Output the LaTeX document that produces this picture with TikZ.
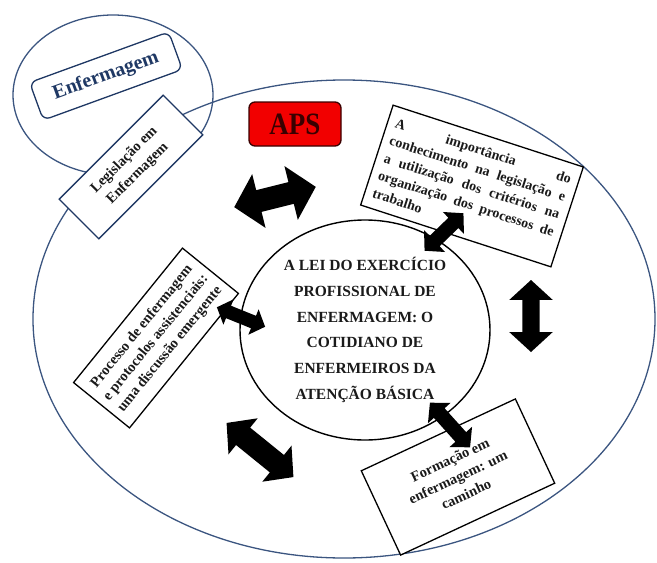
\documentclass[tikz,border=0pt]{standalone}
\usepackage{fontspec}
\setmainfont{Liberation Serif}
\usetikzlibrary{shapes.arrows,shapes.geometric}
\definecolor{navy}{HTML}{1F3864}
\definecolor{ellc}{HTML}{3B5580}
\definecolor{apsred}{HTML}{F20000}
\definecolor{apstxt}{HTML}{3A0000}
\definecolor{txt}{HTML}{1A1A1A}
\newcommand{\jline}[1]{\leavevmode\hbox to 184pt{#1}}
\begin{document}
\begin{tikzpicture}[x=1pt,y=-1pt,
  box/.style={draw=black, line width=1.3pt, fill=white, inner sep=0pt, text=txt,
    font=\bfseries\fontsize{14.5}{18}\selectfont, align=center},
  barr/.style={double arrow, fill=black, inner xsep=0pt, double arrow tip angle=95},
  outline/.style={draw=ellc, line width=1.3pt}
]
\useasboundingbox (0,0) rectangle (657,563);
% big and small ellipses
\node[outline, ellipse, inner sep=0pt, minimum width=622pt, minimum height=478pt] (big) at (344,319) {};
\node[outline, ellipse, inner sep=0pt, minimum width=200pt, minimum height=160pt] (small) at (113,95) {};
% central circle
\node[ellipse, draw=black, line width=1.4pt, inner sep=0pt, minimum width=250pt, minimum height=220pt,
  align=center, text=txt, font=\bfseries\fontsize{15.5}{25.8}\selectfont] (lei) at (365,330)
  {A LEI DO EXERCÍCIO\\PROFISSIONAL DE\\ENFERMAGEM: O\\COTIDIANO DE\\ENFERMEIROS DA\\ATENÇÃO BÁSICA};
% boxes
\node[draw=navy, line width=1.3pt, fill=white, rounded corners=7pt, rotate=20, minimum width=148pt, minimum height=40pt,
  text=navy, font=\bfseries\fontsize{20}{22}\selectfont] (enf) at (106,76) {Enfermagem};
\node[box, draw=navy, rotate=45, minimum width=147pt, minimum height=56pt, font=\bfseries\fontsize{14.5}{19}\selectfont] (leg) at (131,167)
  {Legislação em\\Enfermagem};
\node[draw=apstxt, line width=1.3pt, fill=apsred, rounded corners=6pt, minimum width=92pt, minimum height=44pt,
  text=apstxt, font=\bfseries\fontsize{27}{30}\selectfont] (aps) at (295,124) {\scalebox{1}[1.15]{APS}};
\node[box, rotate=-18, minimum width=200pt, minimum height=105pt, text width=184pt, align=left,
  font=\bfseries\fontsize{14}{18.5}\selectfont] (imp) at (472,186)
  {\jline{A\hfill importância\hfill do}\\
   \jline{conhecimento\hfill na\hfill legislação\hfill e}\\
   \jline{a\hfill utilização\hfill dos\hfill critérios\hfill na}\\
   \jline{organização\hfill dos\hfill processos\hfill de}\\
   trabalho};
\node[box, rotate=51, minimum width=173pt, minimum height=72pt] (proc) at (156,338)
  {Processo de enfermagem\\e protocolos assistenciais:\\uma discussão emergente};
\node[box, rotate=25, minimum width=170pt, minimum height=93pt, font=\bfseries\fontsize{14.5}{19}\selectfont] (form) at (458,477)
  {Formação em\\enfermagem: um\\caminho};
% block double arrows
\node[barr, rotate=14, minimum height=84pt, inner ysep=11pt, double arrow head extend=16.5pt] (a1) at (275,197) {};
\node[barr, rotate=44, minimum height=54pt, inner ysep=7pt, double arrow head extend=8pt] (a2) at (444,232) {};
\node[barr, rotate=-22, minimum height=52pt, inner ysep=6.5pt, double arrow head extend=7pt] (a3) at (241,317) {};
\node[barr, rotate=-39, minimum height=86pt, inner ysep=11pt, double arrow head extend=12pt] (a4) at (260,450) {};
\node[barr, rotate=-48, minimum height=60pt, inner ysep=7pt, double arrow head extend=8pt] (a5) at (450,425) {};
\node[barr, rotate=90, minimum height=72pt, inner ysep=8.5pt, double arrow head extend=13pt] (a6) at (531,316) {};
\end{tikzpicture}
\end{document}
